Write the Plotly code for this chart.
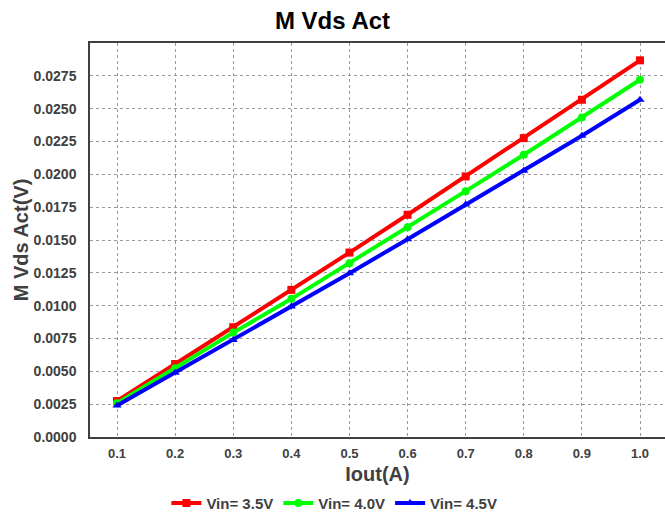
import plotly.graph_objects as go

# Output current (A)
iout = [0.1, 0.2, 0.3, 0.4, 0.5, 0.6, 0.7, 0.8, 0.9, 1.0]

# Measured Vds per input voltage (V)
vds_35 = [0.00274, 0.00556, 0.00836, 0.01120, 0.01404, 0.01692, 0.01984, 0.02276, 0.02568, 0.02868]
vds_40 = [0.00257, 0.00523, 0.00795, 0.01052, 0.01323, 0.01598, 0.01872, 0.02149, 0.02433, 0.02720]
vds_45 = [0.00239, 0.00490, 0.00739, 0.00993, 0.01247, 0.01506, 0.01770, 0.02027, 0.02294, 0.02568]

series_names = ["Vin= 3.5V", "Vin= 4.0V", "Vin= 4.5V"]
series_colors = ["#ff0000", "#00ff00", "#0000ff"]
series_symbols = ["square", "circle", "triangle-up"]

y_ticks = [i * 0.0025 for i in range(12)]
x_ticks = iout

FONT = "Liberation Sans, Arial, sans-serif"
TEXT_COLOR = "#404040"

fig = go.Figure()
for name, vals, color, sym in zip(series_names, [vds_35, vds_40, vds_45],
                                  series_colors, series_symbols):
    fig.add_trace(go.Scatter(
        x=iout, y=vals, name=name, mode="lines+markers",
        line=dict(color=color, width=4),
        marker=dict(color=color, symbol=sym, size=8),
    ))

fig.update_layout(
    width=665, height=515,
    margin=dict(l=90, r=0, t=43, b=78, autoexpand=False),
    paper_bgcolor="white", plot_bgcolor="white",
    title=dict(text="M Vds Act", x=0.5, xref="container", xanchor="center",
               y=0.96, yanchor="middle",
               font=dict(family=FONT, size=24, color="black", weight="bold")),
    font=dict(family=FONT, color=TEXT_COLOR),
    showlegend=True,
    legend=dict(orientation="h", x=0.425, xanchor="center", y=-0.168, yanchor="middle",
                font=dict(family=FONT, size=15, color=TEXT_COLOR, weight="bold"),
                itemwidth=30, tracegroupgap=0, bgcolor="rgba(0,0,0,0)"),
)

fig.update_xaxes(
    range=[0.0535, 1.043], tickvals=x_ticks, tickformat=".1f",
    tickfont=dict(family=FONT, size=13, color=TEXT_COLOR, weight="bold"),
    title=dict(text="Iout(A)", standoff=7,
               font=dict(family=FONT, size=20, color=TEXT_COLOR, weight="bold")),
    showline=True, linecolor="#404040", linewidth=1.5, mirror=True,
    showgrid=True, gridcolor="#999999", griddash="dot", gridwidth=1,
    zeroline=False, ticks="", ticklabelstandoff=4,
)
fig.update_yaxes(
    range=[0, 0.030], tickvals=y_ticks, tickformat=".4f",
    tickfont=dict(family=FONT, size=14, color=TEXT_COLOR, weight="bold"),
    title=dict(text="M Vds Act(V)", standoff=0,
               font=dict(family=FONT, size=20, color=TEXT_COLOR, weight="bold")),
    showline=True, linecolor="#404040", linewidth=1.5, mirror=False,
    showgrid=True, gridcolor="#999999", griddash="dot", gridwidth=1,
    zeroline=False, ticks="", ticklabelstandoff=9,
)

fig.write_html("out.html")
